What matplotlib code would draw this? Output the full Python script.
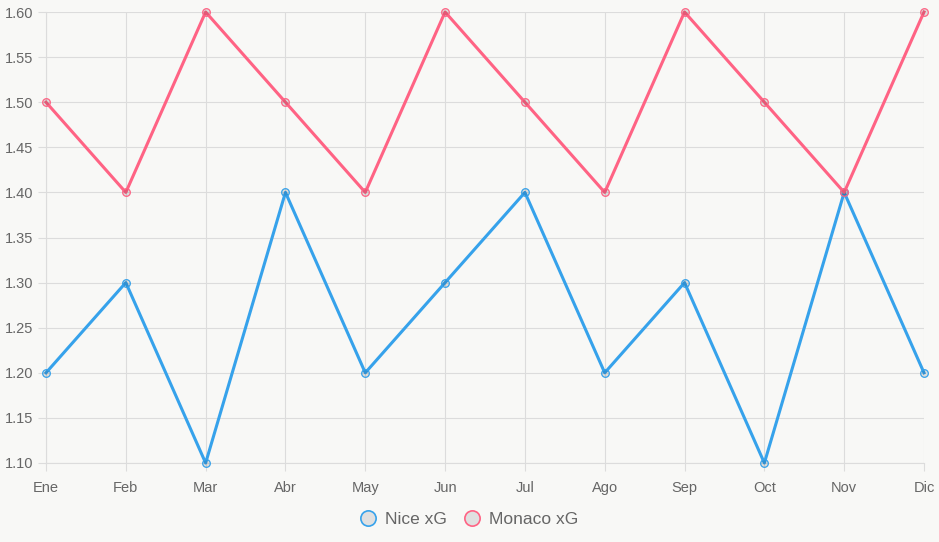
import matplotlib
matplotlib.use("Agg")
import matplotlib.pyplot as plt
from matplotlib.lines import Line2D

months = ["Ene", "Feb", "Mar", "Abr", "May", "Jun", "Jul", "Ago", "Sep", "Oct", "Nov", "Dic"]
nice_xg = [1.2, 1.3, 1.1, 1.4, 1.2, 1.3, 1.4, 1.2, 1.3, 1.1, 1.4, 1.2]
monaco_xg = [1.5, 1.4, 1.6, 1.5, 1.4, 1.6, 1.5, 1.4, 1.6, 1.5, 1.4, 1.6]
y_ticks = [1.10, 1.15, 1.20, 1.25, 1.30, 1.35, 1.40, 1.45, 1.50, 1.55, 1.60]

plt.rcParams['font.family'] = ['Liberation Sans', 'DejaVu Sans']

W, H = 939, 542
bg = "#f8f8f6"
fig = plt.figure(figsize=(W / 100, H / 100), dpi=100, facecolor=bg)
ax = fig.add_axes([46 / W, 1 - 463 / H, (924 - 46) / W, (463 - 12) / H])
ax.set_facecolor(bg)

blue = "#36A2EB"
red = "#FF6384"
x = list(range(len(months)))
for vals, col in [(nice_xg, blue), (monaco_xg, red)]:
    ax.plot(x, vals, color=col, lw=2.2, zorder=3, clip_on=False,
            marker="o", markersize=5.5, markerfacecolor=(0, 0, 0, 0.1),
            markeredgecolor=col, markeredgewidth=0.9)

ax.set_xlim(0, len(months) - 1)
ax.set_ylim(1.10, 1.60)
ax.set_xticks(x)
ax.set_xticklabels(months)
ax.set_yticks(y_ticks)
ax.set_yticklabels([f"{v:.2f}" for v in y_ticks])
grid_c = "#dcdcdc"
ax.grid(True, color=grid_c, lw=0.8, zorder=0)
for s in ax.spines.values():
    s.set_visible(False)
ax.spines['left'].set_visible(True)
ax.spines['left'].set_color(grid_c)
ax.spines['bottom'].set_visible(True)
ax.spines['bottom'].set_color(grid_c)
ax.tick_params(axis='both', colors=grid_c, labelcolor="#666666", labelsize=10.5, length=6, width=0.8)
ax.tick_params(axis='y', pad=3)
ax.tick_params(axis='x', pad=7)

handles = [Line2D([], [], ls="none", marker="o", markersize=11, markerfacecolor="#e0e0e0",
                  markeredgecolor=blue, markeredgewidth=1.2, label="Nice xG"),
           Line2D([], [], ls="none", marker="o", markersize=11, markerfacecolor="#e0e0e0",
                  markeredgecolor=red, markeredgewidth=1.2, label="Monaco xG")]
fig.legend(handles=handles, loc="center", bbox_to_anchor=(468 / W, 1 - 519 / H), ncol=2,
           frameon=False, fontsize=12.5, labelcolor="#666666", handletextpad=0.4,
           columnspacing=0.8, handlelength=1.2)

fig.savefig("out.png", dpi=100, facecolor=bg)
